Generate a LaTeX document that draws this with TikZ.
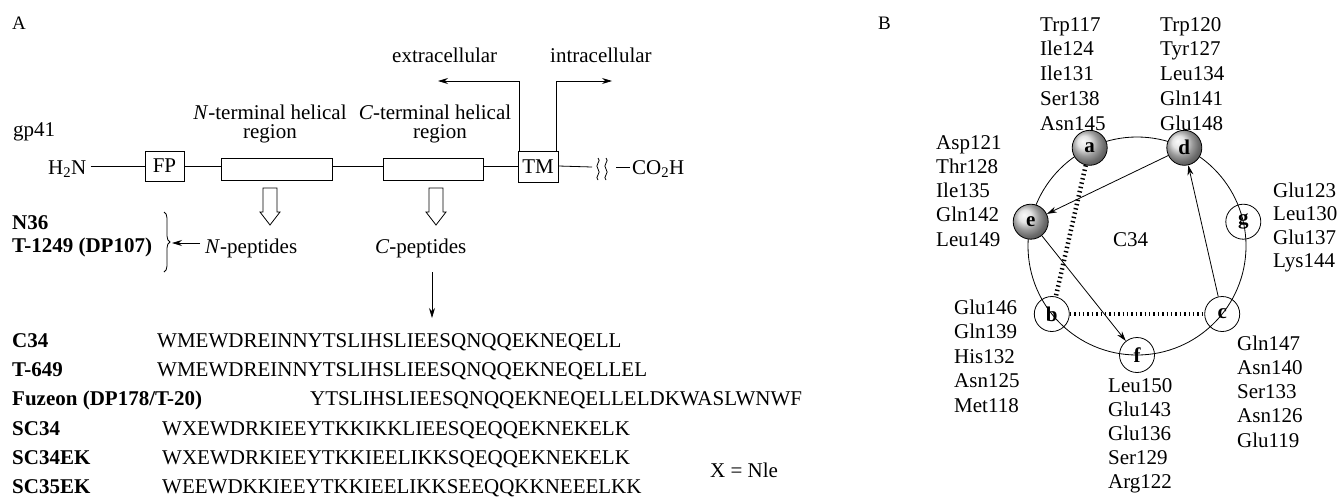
\documentclass[tikz,border=0pt]{standalone}
\usepackage{fontspec}
\setmainfont{Liberation Serif}
\usetikzlibrary{arrows.meta,decorations.pathreplacing,calc}
\newcommand\myfs{\fontsize{21}{24}\selectfont}
\newcommand\mypl{\fontsize{19}{22}\selectfont}
\begin{document}
\begin{tikzpicture}[x=1pt,y=-1pt,
  every node/.style={inner sep=0pt, font=\myfs},
  txt/.style={anchor=base west},
  ctxt/.style={anchor=base},
  bold/.style={anchor=base west, font=\myfs\bfseries},
  bx/.style={draw, line width=0.8pt, inner sep=0pt},
  ln/.style={line width=0.8pt},
  arr/.style={-{Stealth[length=10pt,width=6pt]}, line width=0.8pt},
  dotl/.style={line width=4.5pt, dash pattern=on 1.4pt off 3pt},
  wheel/.style={circle, draw, line width=0.8pt, minimum size=35pt, font=\myfs\bfseries},
  hyd/.style={wheel, shading=ball, ball color=gray!28},
  harrow/.pic={\draw[line width=0.8pt] (-7,0) -- (-7,24) -- (-10,24) -- (0,37) -- (10,24) -- (7,24) -- (7,0) -- cycle;}
]
\useasboundingbox (0,0) rectangle (1341,496);

% ---------------- Panel A ----------------
\node[txt, font=\mypl] (labA) at (12,29) {A};
\node[txt] (gp) at (13,136) {gp41};
\node[txt] (extra) at (392,62) {extracellular};
\node[txt] (intra) at (550,62) {intracellular};
\node[ctxt] (nt1) at (270,119) {\textit{N}-terminal helical};
\node[ctxt] (nt2) at (270,138) {region};
\node[ctxt] (ct1) at (435,119) {\textit{C}-terminal helical};
\node[ctxt] (ct2) at (440,138) {region};

\node[txt] (h2n) at (48,174) {H\textsubscript{2}N};
\node[bx, minimum width=39pt, minimum height=30pt] (fp) at (164.5,166) {FP};
\node[bx, minimum width=111pt, minimum height=22pt] (nr) at (276.5,169) {};
\node[bx, minimum width=100pt, minimum height=22pt] (cr) at (433,169) {};
\node[bx, minimum width=40pt, minimum height=31pt] (tm) at (538,166.5) {TM};
\node[txt] (co2h) at (632,174) {CO\textsubscript{2}H};
\coordinate (sq) at (592,167);
\coordinate (dsh) at (616,167);

\draw[ln] ([xshift=4pt]h2n.east |- fp.west) -- (fp.west);
\draw[ln] (fp.east) -- (nr.west |- fp.east);
\draw[ln] (nr.east |- fp.east) -- (cr.west |- fp.east);
\draw[ln] (cr.east |- fp.east) -- (tm.west |- fp.east);
\draw[ln] (tm.east |- fp.east) -- (sq);
\draw[ln] (598,158) .. controls (602,161) and (594,165) .. (598,169) .. controls (602,173) and (594,177) .. (598,180);
\draw[ln] (606,158) .. controls (610,161) and (602,165) .. (606,169) .. controls (610,173) and (602,177) .. (606,180);
\draw[ln] (dsh) -- ([xshift=-2pt]co2h.west |- dsh);

\coordinate (extip) at (438,81);
\coordinate (intip) at (612,81);
\draw[arr] ([xshift=2pt]tm.north west) |- (extip);
\draw[arr] ([xshift=-2pt]tm.north east) |- (intip);

\pic at (270,188) {harrow};
\pic at (436,188) {harrow};

\node[txt] (npep) at (205,253) {\textit{N}-peptides};
\node[txt] (cpep) at (375,253) {\textit{C}-peptides};
\node[bold] (n36) at (12,229) {N36};
\node[bold] (t1249) at (12,252) {T-1249 (DP107)};
\coordinate (brt) at (164,212);
\coordinate (brb) at (164,272);
\coordinate (brtip) at (172,243);
\draw[ln, decorate, decoration={brace, amplitude=6pt}] (brt) -- (brb);
\draw[arr] ([xshift=-5pt]npep.west |- brtip) -- (brtip);

\coordinate (cpa) at (432,272);
\coordinate (cpb) at (432,318);
\draw[arr] (cpa) -- (cpb);

\node[bold] (nc34) at (12,347) {C34};
\node[bold] (nt649) at (12,376) {T-649};
\node[bold] (nfuz) at (12,405) {Fuzeon (DP178/T-20)};
\node[bold] (nsc34) at (12,435) {SC34};
\node[bold] (nsc34ek) at (12,464) {SC34EK};
\node[bold] (nsc35ek) at (12,493) {SC35EK};
\node[txt] (sc34s) at (157,347) {WMEWDREINNYTSLIHSLIEESQNQQEKNEQELL};
\node[txt] (st649) at (157,376) {WMEWDREINNYTSLIHSLIEESQNQQEKNEQELLEL};
\node[txt] (sfuz) at (310,405) {YTSLIHSLIEESQNQQEKNEQELLELDKWASLWNWF};
\node[txt] (ssc34) at (162,435) {WXEWDRKIEEYTKKIKKLIEESQEQQEKNEKELK};
\node[txt] (ssc34ek) at (162,464) {WXEWDRKIEEYTKKIEELIKKSQEQQEKNEKELK};
\node[txt] (ssc35ek) at (162,493) {WEEWDKKIEEYTKKIEELIKKSEEQQKKNEEELKK};
\node[txt] (xnle) at (710,477) {X = Nle};

% ---------------- Panel B ----------------
\node[txt, font=\mypl] (labB) at (878,29) {B};
\coordinate (wc) at (1137,246);
\draw[ln] (wc) circle[radius=109pt];
\node[txt] (c34) at (1113,246) {C34};

\node[hyd] (a) at (1089.7,147.8) {a};
\node[hyd] (d) at (1184.3,147.8) {d};
\node[hyd] (e) at (1030.7,221.7) {e};
\node[wheel] (g) at (1243.3,221.7) {g};
\node[wheel] (c) at (1222.2,314.0) {c};
\node[wheel] (f) at (1137,355) {f};
\node[wheel] (b) at (1051.8,314.0) {b};

\draw[dotl] (a) -- (b);
\draw[dotl] (b) -- (c);
\draw[arr] (c) -- (d);
\draw[arr] (d) -- (e);
\draw[arr] (e) -- (f);

\foreach \t [count=\i from 0] in {Trp117,Ile124,Ile131,Ser138,Asn145}
  \node[txt] (la\i) at (1040,31+24.75*\i) {\t};
\foreach \t [count=\i from 0] in {Trp120,Tyr127,Leu134,Gln141,Glu148}
  \node[txt] (ld\i) at (1160,31+24.75*\i) {\t};
\foreach \t [count=\i from 0] in {Asp121,Thr128,Ile135,Gln142,Leu149}
  \node[txt] (le\i) at (936,149+24.25*\i) {\t};
\foreach \t [count=\i from 0] in {Glu123,Leu130,Glu137,Lys144}
  \node[txt] (lg\i) at (1273,197+23.5*\i) {\t};
\foreach \t [count=\i from 0] in {Glu146,Gln139,His132,Asn125,Met118}
  \node[txt] (lb\i) at (954,314+24.5*\i) {\t};
\foreach \t [count=\i from 0] in {Leu150,Glu143,Glu136,Ser129,Arg122}
  \node[txt] (lf\i) at (1108,392+24*\i) {\t};
\foreach \t [count=\i from 0] in {Gln147,Asn140,Ser133,Asn126,Glu119}
  \node[txt] (lc\i) at (1237,350+24.25*\i) {\t};
\end{tikzpicture}
\end{document}
